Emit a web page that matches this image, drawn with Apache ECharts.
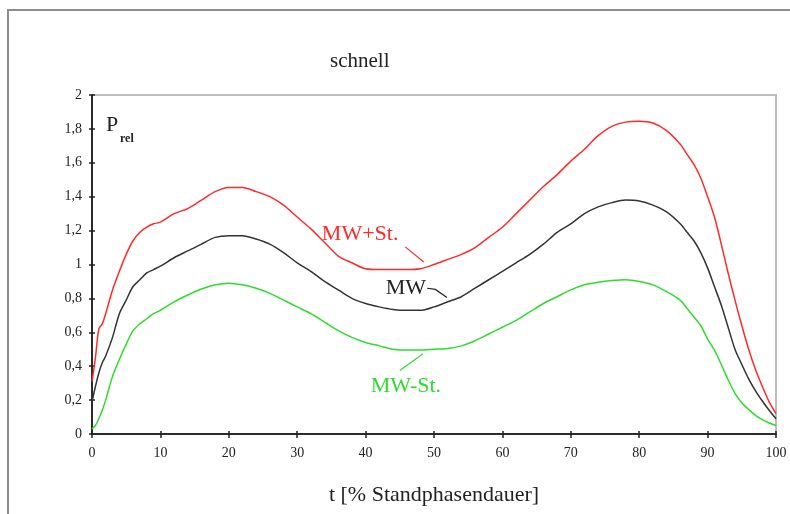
<!DOCTYPE html>
<html>
<head>
<meta charset="utf-8">
<script src="https://cdn.jsdelivr.net/npm/echarts@6/dist/echarts.min.js"></script>
<style>
  html, body { margin: 0; padding: 0; background: #fff; }
  #chart { width: 790px; height: 514px; }
</style>
</head>
<body>
<div id="chart"></div>
<script>
// Relative power over stance phase (fast walking): mean and mean ± SD
const t = [0, 0.5, 1, 1.5, 2, 3, 4, 5, 6, 7, 8, 9, 10, 12, 14, 16, 18, 20, 22, 24, 26, 28, 30,
  32, 34, 36, 38, 40, 42, 44, 46, 48, 50, 52, 54, 56, 58, 60, 62, 64, 66, 68, 70, 72, 74, 76,
  78, 80, 82, 84, 86, 87, 88, 89, 90, 91, 92, 93, 94, 95, 96, 97, 98, 99, 100];

const mwPlusSt = [0.31, 0.45, 0.62, 0.65, 0.71, 0.85, 0.96, 1.06, 1.14, 1.19, 1.22, 1.24, 1.25,
  1.30, 1.33, 1.38, 1.43, 1.455, 1.455, 1.43, 1.40, 1.35, 1.28, 1.21, 1.13, 1.05, 1.01, 0.975,
  0.97, 0.97, 0.97, 0.975, 1.00, 1.03, 1.06, 1.10, 1.16, 1.22, 1.30, 1.38, 1.46, 1.53, 1.61,
  1.68, 1.76, 1.815, 1.84, 1.845, 1.835, 1.79, 1.71, 1.65, 1.59, 1.51, 1.40, 1.28, 1.12, 0.95,
  0.79, 0.64, 0.50, 0.38, 0.28, 0.19, 0.12];

const mw = [0.19, 0.28, 0.36, 0.42, 0.46, 0.57, 0.71, 0.79, 0.87, 0.91, 0.95, 0.97, 0.99,
  1.04, 1.08, 1.12, 1.16, 1.17, 1.17, 1.15, 1.12, 1.07, 1.01, 0.96, 0.90, 0.85, 0.80, 0.77,
  0.75, 0.735, 0.73, 0.73, 0.75, 0.78, 0.81, 0.86, 0.91, 0.96, 1.01, 1.06, 1.12, 1.19, 1.24,
  1.30, 1.34, 1.365, 1.38, 1.375, 1.35, 1.31, 1.24, 1.19, 1.14, 1.07, 0.98, 0.87, 0.76, 0.63,
  0.50, 0.41, 0.325, 0.255, 0.195, 0.14, 0.09];

const mwMinusSt = [0.03, 0.05, 0.09, 0.14, 0.20, 0.34, 0.44, 0.53, 0.61, 0.65, 0.68, 0.71, 0.73,
  0.78, 0.82, 0.855, 0.88, 0.89, 0.88, 0.86, 0.83, 0.79, 0.75, 0.71, 0.66, 0.61, 0.57, 0.54,
  0.52, 0.50, 0.495, 0.495, 0.50, 0.505, 0.52, 0.55, 0.59, 0.63, 0.67, 0.72, 0.77, 0.81, 0.85,
  0.88, 0.895, 0.905, 0.91, 0.90, 0.88, 0.84, 0.79, 0.74, 0.69, 0.64, 0.56, 0.495, 0.41, 0.32,
  0.24, 0.185, 0.145, 0.11, 0.085, 0.065, 0.05];

const seriesNames = ['MW+St.', 'MW', 'MW-St.'];
const seriesColors = ['#ff2a2a', '#333333', '#2edc2e'];

const FONT = '"Liberation Serif", "Times New Roman", serif';

const pairs = arr => t.map((x, i) => [x, arr[i]]);

const chart = echarts.init(document.getElementById('chart'), null, { renderer: 'canvas' });

const axisBase = {
  type: 'value',
  min: 0,
  splitLine: { show: false },
  axisLine: { show: true, lineStyle: { color: '#222', width: 1.5 } }
};

const option = {
  animation: false,
  backgroundColor: '#fff',
  title: {
    text: 'schnell',
    left: 330,
    top: 51,
    padding: 0,
    textStyle: { fontFamily: FONT, fontSize: 21, fontWeight: 'normal', color: '#222' }
  },
  grid: {
    left: 92, right: 14, top: 95, bottom: 80,
    show: true, borderColor: '#bdbdbd', borderWidth: 2, backgroundColor: 'transparent'
  },
  xAxis: [
    Object.assign({}, axisBase, {
      max: 100, interval: 10,
      name: 't [% Standphasendauer]',
      nameLocation: 'middle',
      nameGap: 50,
      nameTextStyle: { fontFamily: FONT, fontSize: 22, color: '#222' },
      axisTick: { show: true, length: 4, lineStyle: { color: '#222', width: 1.5 } },
      axisLabel: { fontFamily: FONT, fontSize: 14, color: '#222', margin: 12 }
    }),
    Object.assign({}, axisBase, {
      max: 100, interval: 10, position: 'bottom', gridIndex: 0,
      axisTick: { show: true, inside: true, length: 3, lineStyle: { color: '#222', width: 1.5 } },
      axisLabel: { show: false }
    })
  ],
  yAxis: [
    Object.assign({}, axisBase, {
      max: 2, interval: 0.2,
      axisTick: { show: true, length: 3, lineStyle: { color: '#222', width: 1.5 } },
      axisLabel: {
        fontFamily: FONT, fontSize: 14, color: '#222', margin: 10,
        formatter: v => String(Math.round(v * 10) / 10).replace('.', ',')
      }
    }),
    Object.assign({}, axisBase, {
      max: 2, interval: 0.2, position: 'left', gridIndex: 0,
      axisTick: { show: true, inside: true, length: 3, lineStyle: { color: '#222', width: 1.5 } },
      axisLabel: { show: false }
    })
  ],
  series: [mwPlusSt, mw, mwMinusSt].map((arr, i) => ({
    name: seriesNames[i],
    type: 'line',
    data: pairs(arr),
    showSymbol: false,
    smooth: 0.3,
    lineStyle: { color: seriesColors[i], width: 1.5 },
    z: 3
  }))
};

chart.setOption(option);

// Curve labels and leader lines, given in data coordinates
const annotations = [
  { text: 'MW+St.', color: seriesColors[0], at: [39.2, 1.18],
    leader: [[45.8, 1.104], [48.5, 1.015]] },
  { text: 'MW', color: '#222', at: [45.9, 0.86],
    leader: [[49.0, 0.86], [50.2, 0.853], [51.9, 0.806]] },
  { text: 'MW-St.', color: seriesColors[2], at: [45.9, 0.28],
    leader: [[45.0, 0.375], [48.4, 0.474]] }
];

const toPx = p => chart.convertToPixel({ xAxisIndex: 0, yAxisIndex: 0 }, p);

const graphics = [
  // outer frame
  { type: 'rect', silent: true, z: 1,
    shape: { x: 8, y: 10, width: 900, height: 700 },
    style: { fill: 'none', stroke: '#8c8c8c', lineWidth: 2 } },
  // y axis caption P_rel
  { type: 'text', left: 106, top: 114, z: 5,
    style: { text: 'P', font: '22px ' + FONT, fill: '#222' } },
  { type: 'text', left: 120, top: 133, z: 5,
    style: { text: 'rel', font: 'bold 12px ' + FONT, fill: '#222' } }
];

annotations.forEach(a => {
  const p = toPx(a.at);
  graphics.push({
    type: 'text', x: p[0], y: p[1], z: 5,
    style: { text: a.text, font: '22px ' + FONT, fill: a.color, align: 'center', verticalAlign: 'middle' }
  });
  graphics.push({
    type: 'polyline', z: 5,
    shape: { points: a.leader.map(toPx) },
    style: { stroke: a.color, lineWidth: 1.2, fill: 'none' }
  });
});

chart.setOption({ graphic: graphics });
</script>
</body>
</html>
